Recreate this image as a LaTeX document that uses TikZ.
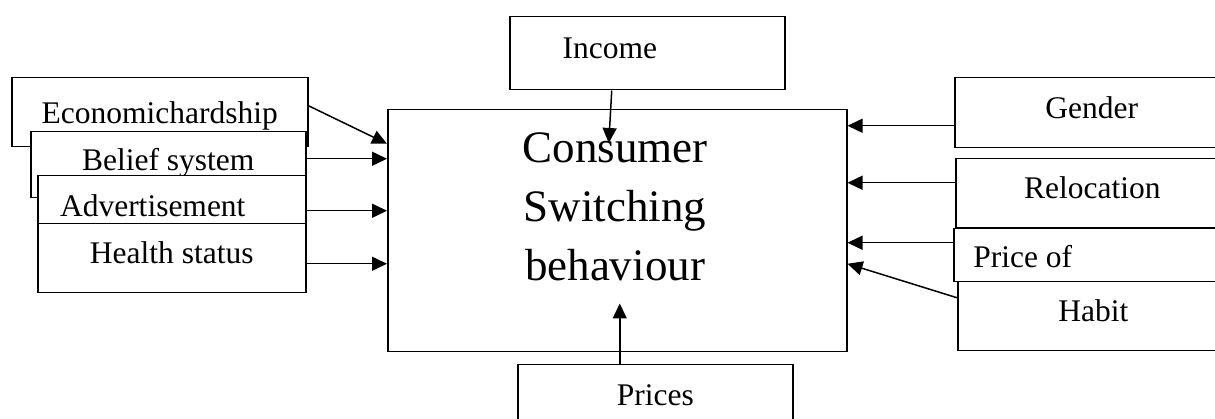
\documentclass[tikz,border=0pt]{standalone}
\usepackage{fontspec}
\setmainfont{Liberation Serif}
\usetikzlibrary{arrows.meta}

\begin{document}
\begin{tikzpicture}[
x=1pt, y=-1pt,
line width=1.5pt,
>={Triangle[length=15pt, width=14pt]},
factor/.style={rectangle, draw, fill=white, anchor=north west, inner sep=0pt, font=\fontsize{31.5}{38}\selectfont, text height=22pt, text depth=11pt},
core/.style={rectangle, draw, fill=white, anchor=north west},
title/.style={align=center, inner sep=0pt, font=\fontsize{45}{59}\selectfont}
]

\useasboundingbox[fill=white] (0,0) rectangle (1215,419);
\clip (0,0) rectangle (1215,419);

\node[factor, minimum width=296pt, minimum height=69pt, text height=34pt] (econ) at (11,77) {Economichardship};
\node[factor, minimum width=275pt, minimum height=66pt] (belief) at (30,131) {Belief system};
\node[factor, minimum width=268pt, minimum height=70pt] (advert) at (37,175) {Advertisement\hspace*{38pt}};
\node[factor, minimum width=268pt, minimum height=69pt] (health) at (37,223) {Health status};

\node[factor, minimum width=275pt, minimum height=73pt] (income) at (509,16) {Income\hspace*{75pt}};
\node[core, minimum width=459pt, minimum height=242pt] (main) at (387,109) {};
\node[factor, minimum width=275pt, minimum height=70pt] (prices) at (517,364) {Prices};

\node[factor, minimum width=274pt, minimum height=70pt] (gender) at (954,77) {Gender};
\node[factor, minimum width=273pt, minimum height=69pt] (reloc) at (955,158) {Relocation};
\node[factor, minimum width=275pt, minimum height=53pt, text height=36pt] (priceof) at (953,228) {Price of\hspace*{137pt}};
\node[factor, minimum width=271pt, minimum height=69pt] (habit) at (957,281) {Habit};

\node[title] (label) at (615,207) {Consumer\\Switching\\behaviour};

\draw[->] ([shift={(0,-6.5)}]econ.east) -- ([shift={(0,-87)}]main.west);
\draw[->] ([shift={(0,-6)}]belief.east) -- ([shift={(0,-6)}]belief.east -| main.west);
\draw[->] (advert.east) -- (advert.east -| main.west);
\draw[->] ([shift={(0,5.5)}]health.east) -- ([shift={(0,5.5)}]health.east -| main.west);
\draw[->] ([shift={(-35.5,0)}]income.south) -- ([shift={(-8.5,34)}]main.north);
\draw[->] ([shift={(-35.5,0)}]prices.north) -- ([shift={(2.5,-49)}]main.south);
\draw[->] ([shift={(0,13)}]gender.west) -- ([shift={(0,13)}]gender.west -| main.east);
\draw[->] ([shift={(0,-10.5)}]reloc.west) -- ([shift={(0,-10.5)}]reloc.west -| main.east);
\draw[->] ([shift={(0,-12.5)}]priceof.west) -- ([shift={(0,-12.5)}]priceof.west -| main.east);
\draw[->] ([shift={(0,-18.5)}]habit.west) -- ([shift={(0,33)}]main.east);

\end{tikzpicture}
\end{document}
